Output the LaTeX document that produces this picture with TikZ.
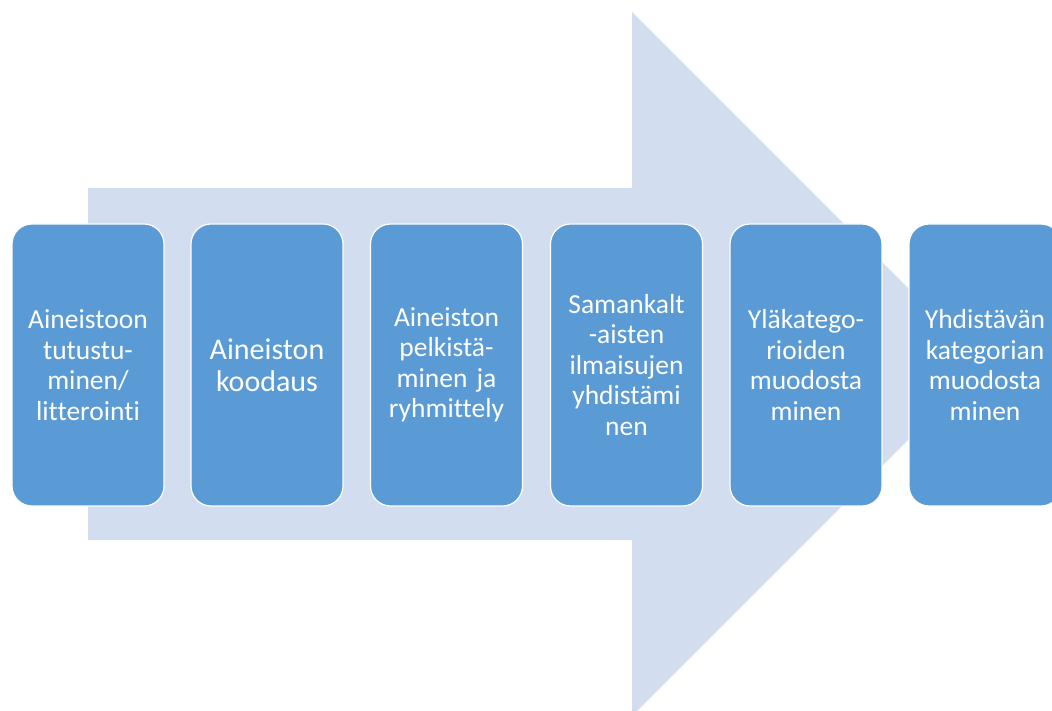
\documentclass[tikz,border=0pt]{standalone}
\usepackage{fontspec}
\setmainfont[Ligatures={NoCommon}]{Carlito}
\definecolor{arrowfill}{RGB}{210,222,239}
\definecolor{boxfill}{RGB}{91,155,213}
\tikzset{
  stepbox/.style={draw=white, line width=1.2pt, fill=boxfill, rounded corners=20pt,
    minimum width=152pt, minimum height=282pt, text width=150pt, align=center,
    inner sep=0pt, text=white, font=\fontsize{27.5}{30.5}\selectfont},
  bigtext/.style={font=\fontsize{30}{32}\selectfont}
}
\begin{document}
\begin{tikzpicture}[x=1pt,y=-1pt]
\useasboundingbox (0,0) rectangle (1052,711);
% big arrow
\fill[arrowfill] (88,188) -- (632,188) -- (632,12) -- (984,364) -- (632,716) -- (632,540) -- (88,540) -- cycle;
% steps
\node[stepbox] (s1) at (88,365) {Aineistoon\\tutustu-\\minen/\\litterointi};
\node[stepbox,bigtext] (s2) at (267,365) {Aineiston\\koodaus};
\node[stepbox] (s3) at (446.5,365) {Aineiston\\pelkistä-\\minen ja\\ryhmittely};
\node[stepbox] (s4) at (626.5,365) {Samankalt\\-aisten\\ilmaisujen\\yhdistämi\\nen};
\node[stepbox] (s5) at (806,365) {Yläkatego-\\rioiden\\muodosta\\minen};
\node[stepbox] (s6) at (985,365) {Yhdistävän\\kategorian\\muodosta\\minen};
\end{tikzpicture}
\end{document}
